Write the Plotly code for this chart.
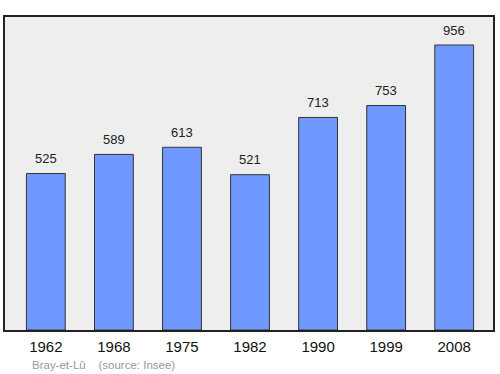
import plotly.graph_objects as go

years = ["1962", "1968", "1975", "1982", "1990", "1999", "2008"]
population = [525, 589, 613, 521, 713, 753, 956]

fig = go.Figure()
fig.add_trace(go.Bar(
    x=list(range(len(years))), y=population,
    width=0.57,
    marker=dict(color="#7099ff", line=dict(color="#333333", width=1)),
    hoverinfo="skip",
))
for i, v in enumerate(population):
    fig.add_annotation(x=i, y=v, text=str(v), showarrow=False, yshift=15,
                       font=dict(family="Liberation Sans, Arial", size=13, color="#222222"))

fig.add_annotation(xref="paper", yref="paper", x=0.051, y=-0.112, xanchor="left", yanchor="middle",
                   text="Bray-et-Lû &nbsp;&nbsp;&nbsp;(source: Insee)", showarrow=False,
                   font=dict(family="Liberation Sans, Arial", size=11.5, color="#999999"))

fig.update_layout(
    width=500, height=374,
    margin=dict(l=5, r=5, t=17, b=44),
    paper_bgcolor="white", plot_bgcolor="#eeeeee",
    showlegend=False,
    xaxis=dict(range=[-0.6, 6.57], tickvals=list(range(len(years))), ticktext=years,
               showgrid=False, zeroline=False, showline=True, mirror=True,
               linecolor="#222222", linewidth=1.5, ticks="", ticklabelstandoff=2,
               tickfont=dict(family="Liberation Sans, Arial", size=15, color="#111111")),
    yaxis=dict(range=[0, 1050], showgrid=False, zeroline=False, showline=True, mirror=True,
               linecolor="#222222", linewidth=1.5, showticklabels=False, ticks=""),
)
fig.write_html("out.html")
